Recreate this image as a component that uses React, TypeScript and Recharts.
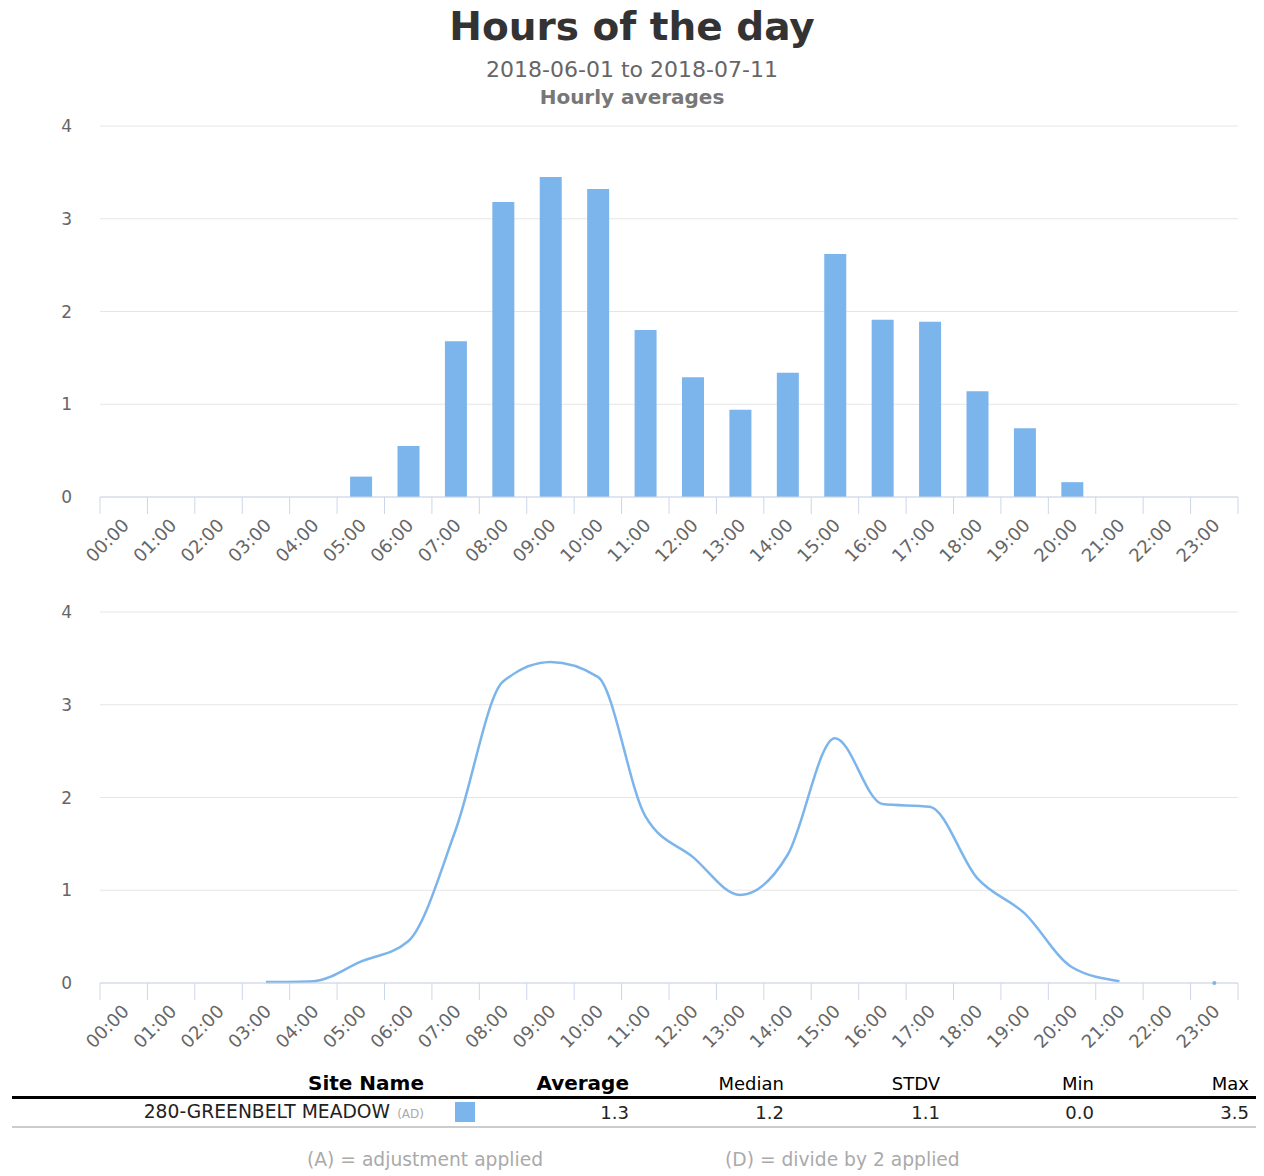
import React from "react";
import {
  BarChart,
  Bar,
  LineChart,
  Line,
  XAxis,
  YAxis,
  CartesianGrid,
} from "recharts";

// hour categories on both charts
const HOURS = [
  "00:00", "01:00", "02:00", "03:00", "04:00", "05:00", "06:00", "07:00",
  "08:00", "09:00", "10:00", "11:00", "12:00", "13:00", "14:00", "15:00",
  "16:00", "17:00", "18:00", "19:00", "20:00", "21:00", "22:00", "23:00",
];

// hourly averages (bars)
const BAR_VALUES: (number | null)[] = [
  null, null, null, 0, 0, 0.22, 0.55, 1.68, 3.18, 3.45, 3.32, 1.8,
  1.29, 0.94, 1.34, 2.62, 1.91, 1.89, 1.14, 0.74, 0.16, 0, null, 0,
];

// smoothed line (lower chart)
const LINE_VALUES: (number | null)[] = [
  null, null, null, 0.01, 0.02, 0.23, 0.45, 1.65, 3.25, 3.46, 3.3, 1.8,
  1.36, 0.95, 1.38, 2.64, 1.93, 1.9, 1.13, 0.75, 0.17, 0.02, null, 0,
];

const Y_TICKS = [0, 1, 2, 3, 4];

// table below the charts
const TABLE_HEADERS = ["Site Name", "Average", "Median", "STDV", "Min", "Max"];
const SITE_NAME = "280-GREENBELT MEADOW";
const SITE_FLAGS = "(AD)";
const SITE_STATS = ["1.3", "1.2", "1.1", "0.0", "3.5"];
const FOOTNOTES = ["(A) = adjustment applied", "(D) = divide by 2 applied"];

const BLUE = "#7cb5ec";
const FONT = '"DejaVu Sans", Verdana, sans-serif';
const CHART_W = 1264;
const PLOT_LEFT = 100;
const PLOT_RIGHT_MARGIN = 26;
const HALF_BAND = (CHART_W - PLOT_LEFT - PLOT_RIGHT_MARGIN) / HOURS.length / 2;

const barData = HOURS.map((hour, i) => ({ hour, value: BAR_VALUES[i] }));
const lineData = HOURS.map((hour, i) => ({ hour, value: LINE_VALUES[i] }));

// tick marks sit between categories, labels rotated under the centre
const HourTick = (props: any) => {
  const { x, y, payload, index, visibleTicksCount } = props;
  const left = x - HALF_BAND;
  const lx = x + 2;
  const ly = y + 25;
  return (
    <g>
      <line x1={left} y1={y} x2={left} y2={y + 17} stroke="#ccd6eb" />
      {index === visibleTicksCount - 1 && (
        <line x1={x + HALF_BAND} y1={y} x2={x + HALF_BAND} y2={y + 17} stroke="#ccd6eb" />
      )}
      <text
        x={lx}
        y={ly}
        dy="0.35em"
        textAnchor="end"
        transform={`rotate(-45 ${lx} ${ly})`}
        fill="#666666"
        fontSize={18}
        fontFamily={FONT}
      >
        {payload.value}
      </text>
    </g>
  );
};

// only draw a marker where a point has no neighbours
const IsolatedDot = (props: any) => {
  const { cx, cy, index } = props;
  const v = LINE_VALUES[index];
  const prev = index > 0 ? LINE_VALUES[index - 1] : null;
  const next = index < LINE_VALUES.length - 1 ? LINE_VALUES[index + 1] : null;
  if (v == null || prev != null || next != null) return <g key={index} />;
  return <circle key={index} cx={cx} cy={cy} r={2} fill={BLUE} />;
};

const yAxisProps = {
  width: PLOT_LEFT,
  domain: [0, 4] as [number, number],
  ticks: Y_TICKS,
  axisLine: false,
  tickLine: false,
  tickMargin: 22,
  tick: { fill: "#666666", fontSize: 17, fontFamily: FONT },
};

// text placed by baseline (line-height == font-size)
const Txt = ({
  children,
  base,
  size,
  right,
  left,
  center,
  bold,
  color,
}: {
  children: React.ReactNode;
  base: number;
  size: number;
  right?: number;
  left?: number;
  center?: boolean;
  bold?: boolean;
  color: string;
}) => {
  const style: React.CSSProperties = {
    position: "absolute",
    top: base - 0.846 * size,
    fontSize: size,
    lineHeight: `${size}px`,
    fontWeight: bold ? "bold" : "normal",
    color,
    whiteSpace: "nowrap",
  };
  if (center) {
    style.left = 0;
    style.width = CHART_W;
    style.textAlign = "center";
  } else if (right !== undefined) {
    style.right = CHART_W - right;
    style.textAlign = "right";
  } else {
    style.left = left;
  }
  return <div style={style}>{children}</div>;
};

const COL_RIGHT = [424, 629, 784, 940, 1094, 1249];

export default function App() {
  return (
    <div
      style={{
        position: "absolute",
        left: 0,
        top: 0,
        width: CHART_W,
        height: 1176,
        background: "#ffffff",
        fontFamily: FONT,
        overflow: "hidden",
      }}
    >
      <Txt center base={40} size={39} bold color="#333333">
        Hours of the day
      </Txt>
      <Txt center base={78} size={22} color="#666666">
        2018-06-01 to 2018-07-11
      </Txt>
      <Txt center base={104} size={20} bold color="#777777">
        Hourly averages
      </Txt>

      {/* bar chart */}
      <div style={{ position: "absolute", left: 0, top: 115 }}>
        <BarChart
          width={CHART_W}
          height={470}
          data={barData}
          margin={{ top: 11, right: PLOT_RIGHT_MARGIN, bottom: 0, left: 0 }}
        >
          <CartesianGrid vertical={false} stroke="#e6e6e6" />
          <XAxis
            dataKey="hour"
            interval={0}
            height={88}
            tickLine={false}
            tickSize={0}
            tickMargin={0}
            axisLine={{ stroke: "#ccd6eb" }}
            tick={(p: any) => <HourTick {...p} />}
          />
          <YAxis {...yAxisProps} />
          <Bar dataKey="value" fill={BLUE} barSize={22} isAnimationActive={false} />
        </BarChart>
      </div>

      {/* line chart */}
      <div style={{ position: "absolute", left: 0, top: 600 }}>
        <LineChart
          width={CHART_W}
          height={470}
          data={lineData}
          margin={{ top: 12, right: PLOT_RIGHT_MARGIN, bottom: 0, left: 0 }}
        >
          <CartesianGrid vertical={false} stroke="#e6e6e6" />
          <XAxis
            dataKey="hour"
            interval={0}
            height={87}
            padding={{ left: HALF_BAND, right: HALF_BAND }}
            tickLine={false}
            tickSize={0}
            tickMargin={0}
            axisLine={{ stroke: "#ccd6eb" }}
            tick={(p: any) => <HourTick {...p} />}
          />
          <YAxis {...yAxisProps} />
          <Line
            type="monotone"
            dataKey="value"
            stroke={BLUE}
            strokeWidth={2.5}
            dot={(p: any) => <IsolatedDot key={p.index} {...p} />}
            activeDot={false}
            connectNulls={false}
            isAnimationActive={false}
          />
        </LineChart>
      </div>

      {/* stats table */}
      {TABLE_HEADERS.map((h, i) => (
        <Txt
          key={h}
          right={COL_RIGHT[i]}
          base={1090}
          size={i < 2 ? 20 : 18}
          bold={i < 2}
          color="#000000"
        >
          {h}
        </Txt>
      ))}
      <div
        style={{ position: "absolute", left: 12, top: 1096, width: 1244, height: 3, background: "#000000" }}
      />
      <Txt right={390} base={1119} size={18.7} color="#222222">
        {SITE_NAME}
      </Txt>
      <Txt right={424} base={1118} size={12} color="#aaaaaa">
        {SITE_FLAGS}
      </Txt>
      <div
        style={{ position: "absolute", left: 455, top: 1102, width: 20, height: 20, background: BLUE }}
      />
      {SITE_STATS.map((v, i) => (
        <Txt key={i} right={COL_RIGHT[i + 1]} base={1119} size={18} color="#222222">
          {v}
        </Txt>
      ))}
      <div
        style={{ position: "absolute", left: 12, top: 1126, width: 1244, height: 2, background: "#cccccc" }}
      />
      <Txt left={307} base={1167} size={18.7} color="#aaaaaa">
        {FOOTNOTES[0]}
      </Txt>
      <Txt left={725} base={1167} size={18.7} color="#aaaaaa">
        {FOOTNOTES[1]}
      </Txt>
    </div>
  );
}
